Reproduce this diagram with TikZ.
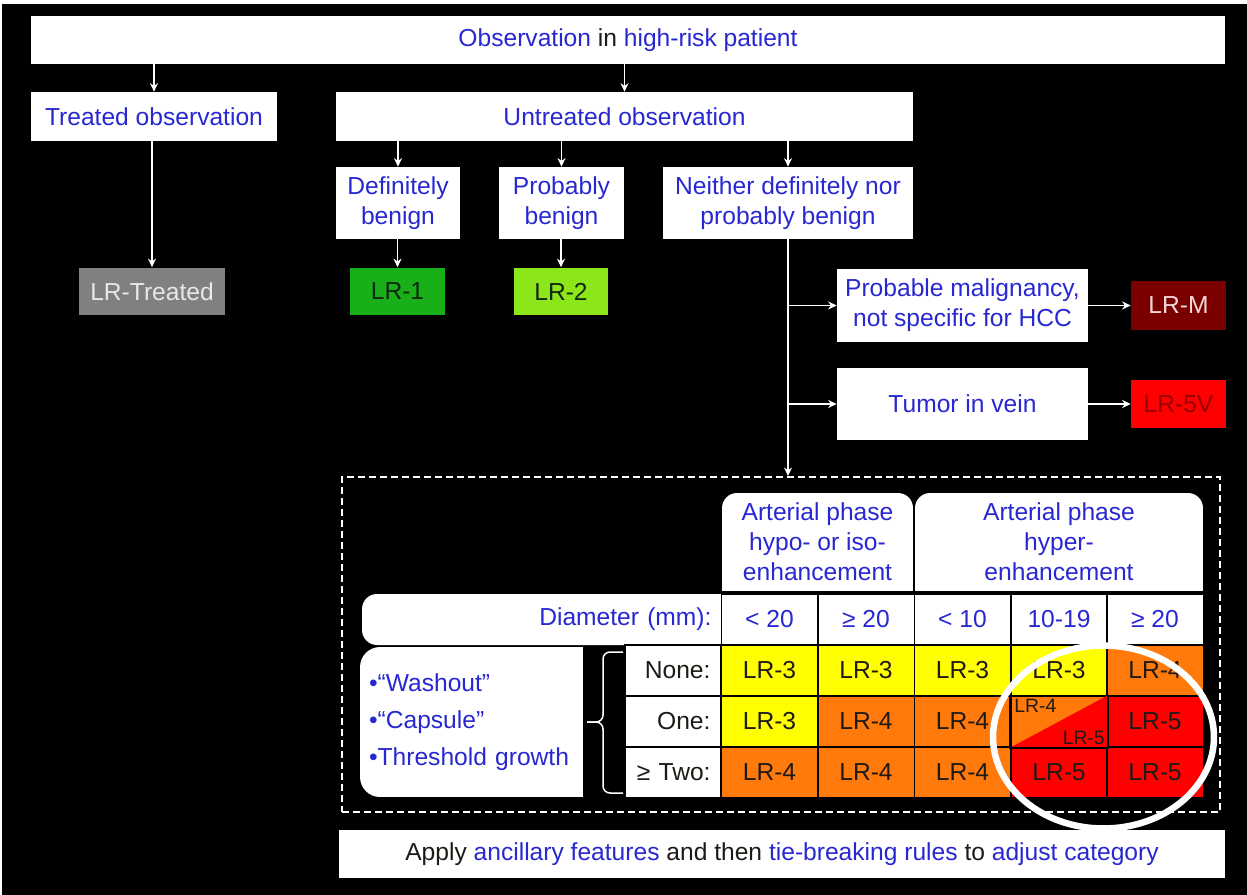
\documentclass[tikz,border=0pt]{standalone}
\usepackage{fontspec}
\setmainfont{Liberation Sans}
\usetikzlibrary{arrows.meta}

\begin{document}
\begin{tikzpicture}[x=0.02cm, y=-0.02cm,
    box/.style={fill=white, inner sep=0pt, align=center, text=obsblue,
      font=\fontsize{14}{17}\selectfont},
    lrbox/.style={inner sep=0pt, minimum width=1.9cm, minimum height=0.96cm,
      font=\fontsize{14}{17}\selectfont},
    tabcell/.style={draw=black, line width=0.03cm, inner sep=0pt,
      minimum width=1.93cm, minimum height=1.02cm, text=textdark,
      font=\fontsize{14}{17}\selectfont},
    wline/.style={draw=white, line width=0.035cm},
    warrow/.style={wline, -{Stealth[length=0.17cm, width=0.16cm]}},
    dashbox/.style={draw=white, line width=0.04cm,
      dash pattern=on 0.14cm off 0.08cm, inner sep=0pt}
  ]
    % Changing colors
    \definecolor{obsblue}{RGB}{40,40,210}%
    \definecolor{textdark}{RGB}{30,26,22}%
    \definecolor{lrgray}{RGB}{128,128,128}%
    \definecolor{graytext}{RGB}{232,232,232}%
    \definecolor{lrgreen}{RGB}{25,175,25}%
    \definecolor{lrlime}{RGB}{140,230,25}%
    \definecolor{greentext}{RGB}{15,40,15}%
    \definecolor{lrmaroon}{RGB}{122,0,0}%
    \definecolor{pinktext}{RGB}{245,215,215}%
    \definecolor{lrred}{RGB}{255,0,0}%
    \definecolor{redtext}{RGB}{150,0,0}%
    \definecolor{lryellow}{RGB}{255,255,0}%
    \definecolor{lrorange}{RGB}{255,122,10}%

    % Page and background
    \useasboundingbox (0,0) rectangle (1247,895);
    \fill[white] (0,0) rectangle (1247,895);
    \fill[black] (2,4) rectangle (1247,895);

    % Drawing boxes of the flow
    \node[box, minimum width=23.88cm, minimum height=0.96cm] (obs) at (628,40)
      {Observation \textcolor{textdark}{in} high-risk patient};
    \node[box, minimum width=4.92cm, minimum height=0.98cm] (treated) at (154,116.5) {Treated observation};
    \node[box, minimum width=11.54cm, minimum height=0.98cm] (untreated) at (624.5,116.5) {Untreated observation};
    \node[box, minimum width=2.48cm, minimum height=1.44cm] (defben) at (398,203) {Definitely\\benign};
    \node[box, minimum width=2.5cm, minimum height=1.44cm] (probben) at (561.5,203) {Probably\\benign};
    \node[box, minimum width=5.0cm, minimum height=1.44cm] (neither) at (788,203) {Neither definitely nor\\probably benign};
    \node[box, minimum width=5.02cm, minimum height=1.46cm] (probmal) at (962.5,305.5) {Probable malignancy,\\not specific for HCC};
    \node[box, minimum width=5.02cm, minimum height=1.44cm] (vein) at (962.5,404) {Tumor in vein};

    % Drawing category boxes
    \node[lrbox, minimum width=2.92cm, fill=lrgray, text=graytext] (lrtreated) at (152,291.5) {LR-Treated};
    \node[lrbox, fill=lrgreen, text=greentext] (lrone) at (397.5,291.5) {LR-1};
    \node[lrbox, minimum width=1.88cm, fill=lrlime, text=greentext] (lrtwo) at (561,291.5) {LR-2};
    \node[lrbox, minimum height=0.98cm, fill=lrmaroon, text=pinktext] (lrm) at (1178.5,305.5) {LR-M};
    \node[lrbox, fill=lrred, text=redtext] (lrfivev) at (1178.5,404) {LR-5V};

    % Drawing dashed frame of the criteria table
    \node[dashbox, minimum width=17.56cm, minimum height=6.7cm] (critbox) at (781,644.5) {};

    % Drawing arrows
    \draw[warrow] (obs.south -| treated.north) -- (treated.north);
    \draw[warrow] (obs.south -| untreated.north) -- (untreated.north);
    \draw[warrow] (treated.south -| lrtreated.north) -- (lrtreated.north);
    \draw[warrow] (untreated.south -| defben.north) -- (defben.north);
    \draw[warrow] (untreated.south -| probben.north) -- (probben.north);
    \draw[warrow] (untreated.south -| neither.north) -- (neither.north);
    \draw[warrow] (defben.south -| lrone.north) -- (lrone.north);
    \draw[warrow] (probben.south -| lrtwo.north) -- (lrtwo.north);
    \draw[warrow] (neither.south) -- (neither.south |- critbox.north);
    \draw[warrow] (neither.south |- probmal.west) -- (probmal.west);
    \draw[warrow] (neither.south |- vein.west) -- (vein.west);
    \draw[warrow] (probmal.east) -- (lrm.west);
    \draw[warrow] (vein.east) -- (lrfivev.west);

    % Drawing column headers
    \fill[white] (722,560) rectangle (913,591);
    \node[box, rounded corners=0.3cm, minimum width=3.82cm, minimum height=1.96cm] (hdrhypo) at (817.5,542)
      {Arterial phase\\hypo- or iso-\\enhancement};
    \fill[white] (915,560) rectangle (1203,591);
    \node[box, rounded corners=0.3cm, minimum width=5.76cm, minimum height=1.96cm] (hdrhyper) at (1059,542)
      {Arterial phase\\hyper-\\enhancement};

    % Drawing diameter row
    \fill[white] (600,594) rectangle (721,645);
    \node[box, rounded corners=0.3cm, minimum width=7.18cm, minimum height=1.02cm,
      text width=6.8cm, align=right] (diamlab) at (541.5,619.5) {Diameter (mm):};
    \foreach \nm/\cx/\lbl in {dlow/769.5/< 20, dhigh/866/≥ 20, dsmall/962.5/< 10,
        dmid/1059/10-19, dlarge/1155/≥ 20}
      \node[tabcell, fill=white, text=obsblue] (\nm) at (\cx,619.5) {\lbl};

    % Drawing major features box and brace
    \fill[white] (500,647) rectangle (583,797);
    \node[box, rounded corners=0.4cm, minimum width=4.46cm, minimum height=3.0cm,
      text width=4.1cm, align=left, font=\fontsize{14}{21}\selectfont] (features) at (471.5,722)
      {•“Washout”\\•“Capsule”\\•Threshold growth};
    \draw[wline, line width=0.03cm, rounded corners=0.14cm] (623,652) -- (603,652) -- (603,722) -- (587,722);
    \draw[wline, line width=0.03cm, rounded corners=0.14cm] (623,793) -- (603,793) -- (603,722) -- (587,722);

    % Drawing row labels
    \foreach \nm/\ry/\lbl in {rnone/670.5/None:, rone/721.5/One:, rtwo/772.5/≥ Two:}
      \node[tabcell, fill=white, minimum width=1.92cm, text width=1.5cm, align=right] (\nm) at (673,\ry) {\lbl};

    % Drawing category cells
    \foreach \nm/\cx/\ry/\cc/\lbl in {
        none-a/769.5/670.5/lryellow/LR-3, none-b/866/670.5/lryellow/LR-3,
        none-c/962.5/670.5/lryellow/LR-3, none-d/1059/670.5/lryellow/LR-3,
        none-e/1155/670.5/lrorange/LR-4,
        one-a/769.5/721.5/lryellow/LR-3, one-b/866/721.5/lrorange/LR-4,
        one-c/962.5/721.5/lrorange/LR-4, one-e/1155/721.5/lrred/LR-5,
        two-a/769.5/772.5/lrorange/LR-4, two-b/866/772.5/lrorange/LR-4,
        two-c/962.5/772.5/lrorange/LR-4, two-d/1059/772.5/lrred/LR-5,
        two-e/1155/772.5/lrred/LR-5}
      \node[tabcell, fill=\cc] (\nm) at (\cx,\ry) {\lbl};

    % Drawing split cell LR-4 / LR-5
    \node[tabcell, fill=lrorange] (one-d) at (1059,721.5) {};
    \fill[lrred] (one-d.south west) -- (one-d.north east) -- (one-d.south east) -- cycle;
    \draw[black, line width=0.03cm] (one-d.north west) rectangle (one-d.south east);
    \node[anchor=north west, inner sep=0pt, text=textdark, font=\fontsize{11}{13}\selectfont]
      (splitfour) at ([shift={(4,4)}]one-d.north west) {LR-4};
    \node[anchor=south east, inner sep=0pt, text=textdark, font=\fontsize{11}{13}\selectfont]
      (splitfive) at ([shift={(-3,-3)}]one-d.south east) {LR-5};

    % Drawing bottom box
    \node[box, minimum width=17.72cm, minimum height=0.96cm] (adjust) at (782,854)
      {\textcolor{textdark}{Apply} ancillary features \textcolor{textdark}{and then}
       tie-breaking rules \textcolor{textdark}{to} adjust category};

    % Marking highlighted cells
    \draw[white, line width=0.13cm] (1103.5,737) ellipse [x radius=2.21cm, y radius=1.83cm];
\end{tikzpicture}
\end{document}
